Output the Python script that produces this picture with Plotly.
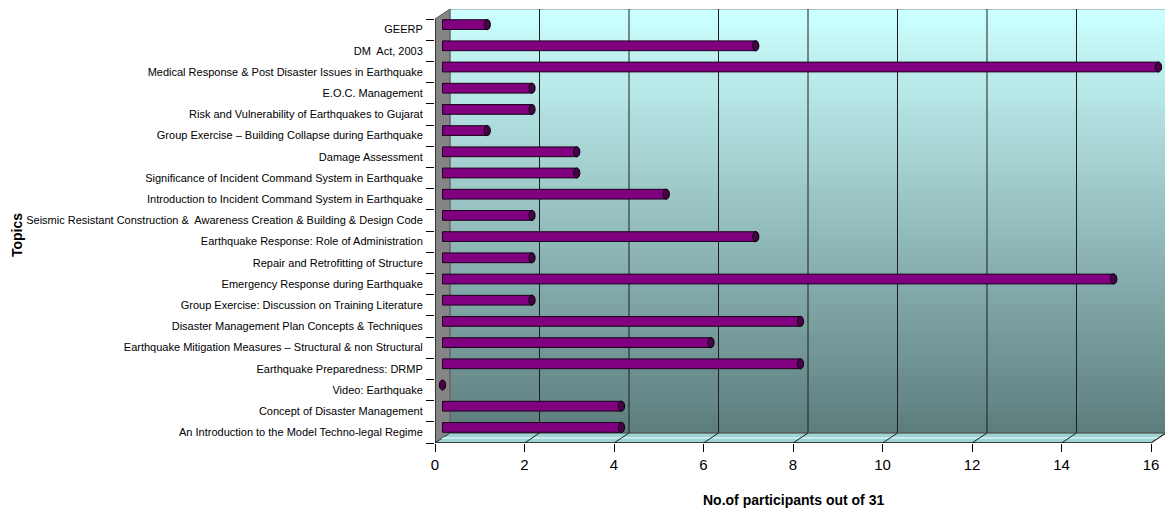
import plotly.graph_objects as go

topics = [
    "GEERP",
    "DM  Act, 2003",
    "Medical Response & Post Disaster Issues in Earthquake",
    "E.O.C. Management",
    "Risk and Vulnerability of Earthquakes to Gujarat",
    "Group Exercise – Building Collapse during Earthquake",
    "Damage Assessment",
    "Significance of Incident Command System in Earthquake",
    "Introduction to Incident Command System in Earthquake",
    "Seismic Resistant Construction &  Awareness Creation & Building & Design Code",
    "Earthquake Response: Role of Administration",
    "Repair and Retrofitting of Structure",
    "Emergency Response during Earthquake",
    "Group Exercise: Discussion on Training Literature",
    "Disaster Management Plan Concepts & Techniques",
    "Earthquake Mitigation Measures – Structural & non Structural",
    "Earthquake Preparedness: DRMP",
    "Video: Earthquake",
    "Concept of Disaster Management",
    "An Introduction to the Model Techno-legal Regime",
]
participants = [1, 7, 16, 2, 2, 1, 3, 3, 5, 2, 7, 2, 15, 2, 8, 6, 8, 0, 4, 4]
x_ticks = [0, 2, 4, 6, 8, 10, 12, 14, 16]

# geometry (pixel-derived)
W, H = 1167, 513
ML, MR, MT = 435, 2, 9
MB = H - 443
PX_PER_UNIT = 716 / 16.0
CAT_PX = 424 / 20.0
plot_w = W - ML - MR
plot_h = H - MT - MB
XMAX = plot_w / PX_PER_UNIT
N = len(topics)
YTOP = 19.5 - plot_h / CAT_PX  # reversed range top value
DX = 15 / PX_PER_UNIT
DY = 10 / CAT_PX

FONT = "Liberation Sans, Arial, sans-serif"

fig = go.Figure()

fig.add_trace(go.Bar(
    x=participants, y=topics, orientation="h",
    xaxis="x2", yaxis="y2",
    width=0.46,
    marker=dict(color="#800080", line=dict(color="#1a001a", width=1)),
    hoverinfo="x+y", showlegend=False,
))

shapes = []
# back wall gradient
top_c = (0xCC, 0xFF, 0xFF)
bot_c = (0x5E, 0x7E, 0x7E)
NS = 60
yb_top, yb_bot = -0.5 - DY, 19.5 - DY
for k in range(NS):
    t = k / (NS - 1)
    c = tuple(int(round(top_c[j] + (bot_c[j] - top_c[j]) * t)) for j in range(3))
    y0 = yb_top + (yb_bot - yb_top) * k / NS
    y1 = yb_top + (yb_bot - yb_top) * (k + 1) / NS
    shapes.append(dict(type="rect", xref="x", yref="y", x0=DX, x1=16 + DX,
                       y0=y0, y1=min(y1 + 0.06, yb_bot), fillcolor="rgb(%d,%d,%d)" % c,
                       line=dict(width=0), layer="below"))
# back wall border
shapes.append(dict(type="rect", xref="x", yref="y", x0=DX, x1=16 + DX,
                   y0=yb_top, y1=yb_bot, line=dict(color="#8a8a8a", width=1),
                   layer="below"))
# gridlines on back wall
for v in x_ticks[1:-1]:
    shapes.append(dict(type="line", xref="x", yref="y", x0=v + DX, x1=v + DX,
                       y0=yb_top, y1=yb_bot, line=dict(color="#1e1e1e", width=1),
                       layer="below"))
# left wall
shapes.append(dict(type="path", xref="x", yref="y",
                   path="M 0,19.5 L %f,%f L %f,%f L 0,-0.5 Z" % (DX, yb_bot, DX, yb_top),
                   fillcolor="#858585", line=dict(color="#555555", width=1), layer="below"))
# floor
shapes.append(dict(type="path", xref="x", yref="y",
                   path="M 0,19.5 L 16,19.5 L %f,%f L %f,%f Z" % (16 + DX, yb_bot, DX, yb_bot),
                   fillcolor="#9fd2d2", line=dict(color="#3a3a3a", width=1), layer="below"))
shapes.append(dict(type="path", xref="x", yref="y",
                   path="M %f,%f L %f,%f L %f,%f L %f,%f Z" % (
                       DX * 0.6, 19.5 - DY * 0.6, 16 + DX * 0.6, 19.5 - DY * 0.6,
                       16 + DX * 0.4, 19.5 - DY * 0.4, DX * 0.4, 19.5 - DY * 0.4),
                   fillcolor="#c4ecec", line=dict(width=0), layer="below"))
for v in x_ticks[1:]:
    shapes.append(dict(type="line", xref="x", yref="y", x0=v, x1=v + DX,
                       y0=19.5, y1=yb_bot, line=dict(color="#1e1e1e", width=1),
                       layer="below"))
# front axis lines
shapes.append(dict(type="line", xref="x", yref="y", x0=0, x1=16, y0=19.5, y1=19.5,
                   line=dict(color="#000000", width=1)))
shapes.append(dict(type="line", xref="x", yref="y", x0=0, x1=0, y0=-0.5, y1=19.5,
                   line=dict(color="#000000", width=1)))
# bar end caps
for i, v in enumerate(participants):
    shapes.append(dict(type="circle", xref="x2", yref="y2",
                       x0=v - 0.07, x1=v + 0.07, y0=i - 0.24, y1=i + 0.24,
                       fillcolor="#4a0048", line=dict(color="#000000", width=1)))

fig.update_layout(
    width=W, height=H,
    margin=dict(l=ML, r=MR, t=MT, b=MB),
    paper_bgcolor="white", plot_bgcolor="white",
    font=dict(family=FONT, color="#000000"),
    shapes=shapes,
    bargap=0.5,
    xaxis=dict(range=[0, XMAX], tickvals=x_ticks, ticktext=[str(v) for v in x_ticks],
               ticks="outside", ticklen=8, tickcolor="#000000", showgrid=False,
               zeroline=False, showline=False, tickfont=dict(size=15, family=FONT)),
    yaxis=dict(range=[19.5, YTOP], tickvals=list(range(N)), ticktext=topics,
               ticks="outside", ticklen=9, tickcolor="rgba(0,0,0,0)",
               showgrid=False, zeroline=False, showline=False,
               tickfont=dict(size=11, family=FONT),
               minor=dict(ticks="outside", tick0=-0.5, dtick=1, ticklen=8,
                          tickcolor="#000000", showgrid=False)),
    xaxis2=dict(overlaying="x", range=[-7.5 / PX_PER_UNIT, XMAX - 7.5 / PX_PER_UNIT],
                visible=False, showgrid=False, zeroline=False),
    yaxis2=dict(overlaying="y", type="category", categoryorder="array",
                categoryarray=topics,
                range=[19.5 + 5 / CAT_PX, YTOP + 5 / CAT_PX],
                visible=False, showgrid=False, zeroline=False),
    annotations=[
        dict(text="<b>Topics</b>", xref="paper", yref="paper",
             x=(17 - ML) / plot_w, y=(443 - 235) / plot_h, textangle=-90,
             showarrow=False, font=dict(size=14, family=FONT),
             xanchor="center", yanchor="middle"),
        dict(text="<b>No.of participants out of 31</b>", xref="paper", yref="paper",
             x=(793 - ML) / plot_w, y=-(500 - 443) / plot_h,
             showarrow=False, font=dict(size=14, family=FONT),
             xanchor="center", yanchor="middle"),
    ],
)

fig.write_html(
    "out.html",
    config={"displayModeBar": False},
    post_script="document.body.style.margin='0';document.body.style.overflow='hidden';",
)
